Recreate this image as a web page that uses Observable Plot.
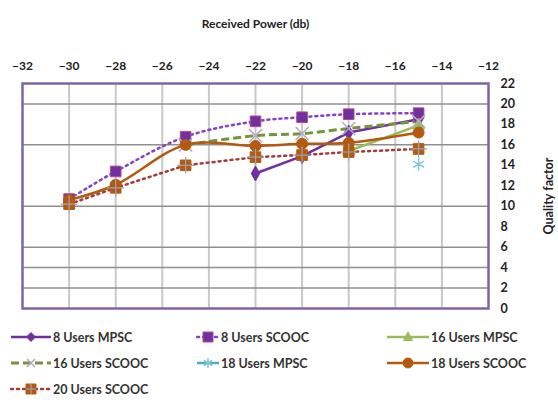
<!DOCTYPE html>
<html>
<head>
<meta charset="utf-8">
<script src="https://cdn.jsdelivr.net/npm/d3@7"></script>
<script src="https://cdn.jsdelivr.net/npm/@observablehq/plot@0.6"></script>
<style>
  html, body { margin: 0; padding: 0; background: #fff; overflow: hidden; }
  body { width: 558px; height: 406px; font-family: Lato, "Open Sans", sans-serif; }
  #legend { position: relative; width: 558px; height: 84px; font-size: 12.5px; font-weight: 700; color: #333; white-space: nowrap; }
  .item { position: absolute; display: flex; align-items: center; height: 20px; }
  .item svg { margin-right: 1px; }
</style>
</head>
<body>
<div id="chart"></div>
<div id="legend"></div>
<script>
const powers = [-30, -28, -25, -22, -20, -18, -15];
const xTicks = [-32, -30, -28, -26, -24, -22, -20, -18, -16, -14, -12];
const xGrid = [-30, -28, -26, -24, -22, -20, -18, -16, -14];
const yTicks = [0, 2, 4, 6, 8, 10, 12, 14, 16, 18, 20, 22];
const yGrid = [2, 4, 6, 10, 16, 20];

const mpsc8   = [null, null, null, 13.2, 14.9, 17.2, 18.5];
const scooc8  = [10.7, 13.4, 16.8, 18.3, 18.7, 19.0, 19.1];
const mpsc16  = [null, null, null, null, null, 15.4, 17.9];
const scooc16 = [null, null, 16.0, 16.9, 17.1, 17.6, 18.3];
const mpsc18  = [null, null, null, null, null, null, 14.1];
const scooc18 = [10.6, 12.1, 16.0, 15.9, 16.1, 16.2, 17.2];
const scooc20 = [10.2, 11.8, 14.0, 14.8, 15.0, 15.3, 15.6];

const seriesNames = ["8 Users MPSC", "8 Users SCOOC", "16 Users MPSC", "16 Users SCOOC", "18 Users MPSC", "18 Users SCOOC", "20 Users SCOOC"];
const seriesValues = [mpsc8, scooc8, mpsc16, scooc16, mpsc18, scooc18, scooc20];

const styles = {
  "8 Users MPSC":   {stroke: "#7030A0", dash: null,  width: 2.5, symbol: "diamond", fill: "#7030A0", mstroke: "#7030A0", r: 4.5, curve: "linear"},
  "8 Users SCOOC":  {stroke: "#8A3FC8", dash: "2,4", width: 2.5, symbol: "square",  fill: "#7030A0", mstroke: "#B24A8A", r: 6,   curve: "catmull-rom"},
  "16 Users MPSC":  {stroke: "#9BBB59", dash: null,  width: 2.5, symbol: "triangle",fill: "#9BBB59", mstroke: "#9BBB59", r: 4.5, curve: "linear"},
  "16 Users SCOOC": {stroke: "#77933C", dash: "8,4", width: 3,   symbol: "times",   fill: "none",    mstroke: "#B3A9C9", r: 6,   curve: "catmull-rom"},
  "18 Users MPSC":  {stroke: "#4BACC6", dash: null,  width: 2.5, symbol: "asterisk",fill: "none",    mstroke: "#7FC6DA", r: 6,   curve: "linear"},
  "18 Users SCOOC": {stroke: "#B35A10", dash: null,  width: 2.5, symbol: "circle",  fill: "#B35A10", mstroke: "#B35A10", r: 5.5, curve: "catmull-rom"},
  "20 Users SCOOC": {stroke: "#A23B3B", dash: "2,4", width: 2.5, symbol: "square",  fill: "#B35A10", mstroke: "#B35A10", r: 6,   curve: "linear"}
};

const rows = [];
seriesNames.forEach((name, i) => {
  seriesValues[i].forEach((v, j) => { if (v != null) rows.push({series: name, x: powers[j], y: v}); });
});

const marks = [
  Plot.ruleX(xGrid, {stroke: "#C8C8C8", strokeWidth: 2}),
  Plot.ruleY(yGrid, {stroke: "#8F8F8F", strokeWidth: 1.5})
];
seriesNames.forEach(name => {
  const s = styles[name];
  const d = rows.filter(r => r.series === name);
  if (d.length > 1) {
    marks.push(Plot.line(d, {x: "x", y: "y", stroke: s.stroke, strokeWidth: s.width, strokeDasharray: s.dash, curve: s.curve, strokeLinecap: s.dash === "2,4" ? "round" : "butt"}));
  }
});
seriesNames.forEach(name => {
  const s = styles[name];
  const d = rows.filter(r => r.series === name);
  marks.push(Plot.dot(d, {x: "x", y: "y", symbol: () => s.symbol, r: s.r, fill: s.fill, stroke: s.mstroke, strokeWidth: s.fill === "none" ? 1.5 : 1}));
  if (name === "20 Users SCOOC") {
    marks.push(Plot.dot(d, {x: "x", y: "y", symbol: () => "plus", r: 5.5, fill: "none", stroke: "#9AA4B8", strokeWidth: 1.2}));
  }
});
marks.push(Plot.frame({stroke: "#8064A2", strokeWidth: 2.5}));
marks.push(Plot.axisX(xTicks, {anchor: "top", tickSize: 0, tickPadding: 14, label: "Received Power (db)", labelAnchor: "center", labelOffset: 64, labelArrow: "none", fontSize: 12, fontWeight: 700, fill: "#222"}));
marks.push(Plot.axisY(yTicks, {anchor: "right", tickSize: 0, tickPadding: 12, textAnchor: "start", label: "Quality factor", labelAnchor: "center", labelOffset: 64, labelArrow: "none", fontSize: 12.5, fontWeight: 700, fill: "#222"}));

const chart = Plot.plot({
  width: 558,
  height: 322,
  marginLeft: 22,
  marginRight: 70,
  marginTop: 83,
  marginBottom: 14,
  style: {fontFamily: "Lato, 'Open Sans', sans-serif", background: "#fff", overflow: "visible"},
  x: {domain: [-32, -12]},
  y: {domain: [0, 22]},
  marks
});
document.getElementById("chart").appendChild(chart);

// legend
const legend = document.getElementById("legend");
const positions = [[10, 5, 42], [196, 5, 24], [386, 5, 44], [10, 31, 42], [196, 31, 24], [386, 31, 44], [10, 57, 42]];
const symPaths = {
  diamond: "M0,-4.5L4.5,0L0,4.5L-4.5,0Z",
  square: "M-5,-5H5V5H-5Z",
  triangle: "M0,-5L4.5,3.5H-4.5Z",
  circle: "M5,0A5,5 0 1,1 -5,0A5,5 0 1,1 5,0Z",
  times: "M-4,-4L4,4M4,-4L-4,4",
  asterisk: "M0,-5V5M-4.3,-2.5L4.3,2.5M4.3,-2.5L-4.3,2.5"
};
seriesNames.forEach((name, i) => {
  const s = styles[name];
  const [lx, ly, w] = positions[i];
  const div = document.createElement("div");
  div.className = "item";
  div.style.left = lx + "px";
  div.style.top = ly + "px";
  const dash = s.dash ? ` stroke-dasharray="${s.dash}"` : "";
  const cap = s.dash === "2,4" ? ` stroke-linecap="round"` : "";
  const cx = w / 2;
  let marker = `<path transform="translate(${cx},10)" d="${symPaths[s.symbol]}" fill="${s.fill}" stroke="${s.mstroke}" stroke-width="${s.fill === "none" ? 1.5 : 1}"/>`;
  if (name === "20 Users SCOOC") marker += `<path transform="translate(${cx},10)" d="M-5,0H5M0,-5V5" stroke="#9AA4B8" stroke-width="1.2"/>`;
  div.innerHTML = `<svg width="${w}" height="20"><line x1="1" x2="${w - 1}" y1="10" y2="10" stroke="${s.stroke}" stroke-width="${s.width}"${dash}${cap}/>${marker}</svg><span>${name}</span>`;
  legend.appendChild(div);
});
</script>
</body>
</html>
